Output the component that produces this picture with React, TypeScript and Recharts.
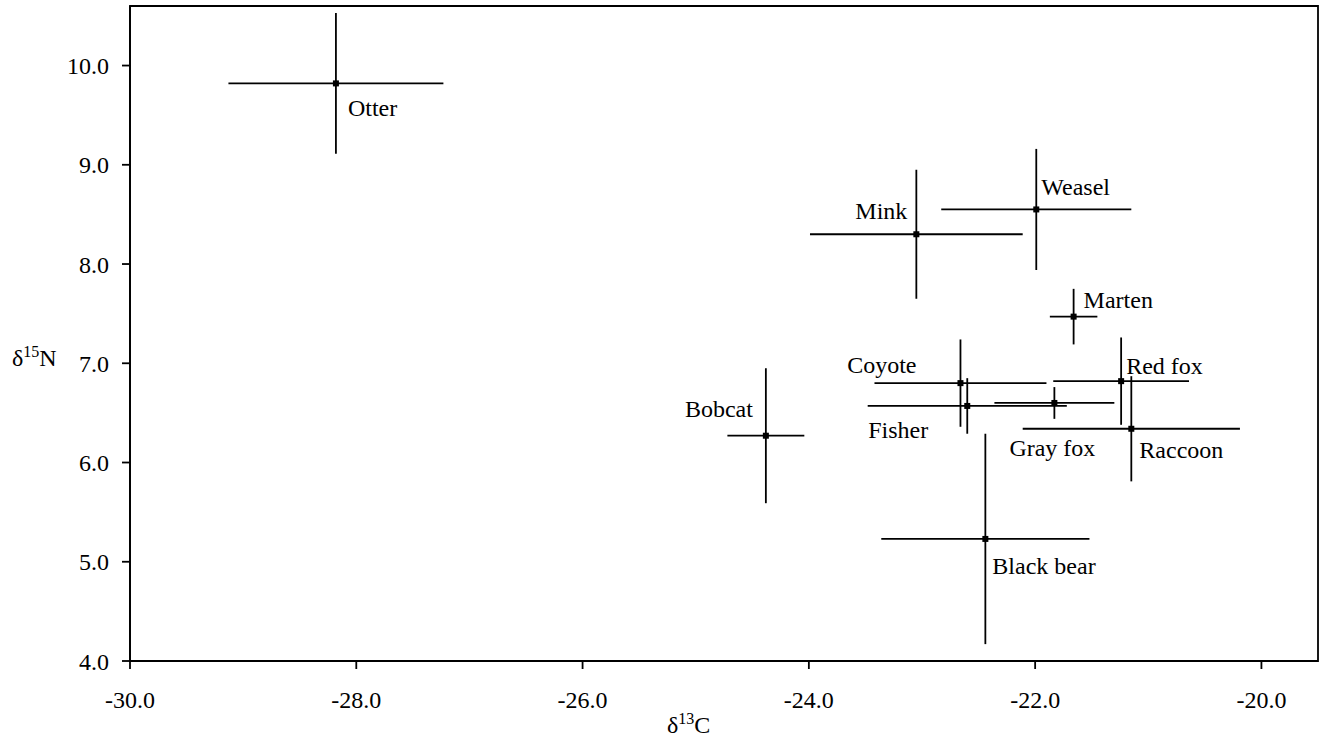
import React from "react";
import { ScatterChart, Scatter, XAxis, YAxis, ErrorBar, ReferenceArea } from "recharts";

const species = ["Otter", "Mink", "Weasel", "Marten", "Coyote", "Fisher", "Gray fox", "Red fox", "Raccoon", "Bobcat", "Black bear"];
const d13C = [-28.18, -23.05, -21.99, -21.66, -22.66, -22.6, -21.83, -21.24, -21.15, -24.38, -22.44];
const d15N = [9.82, 8.3, 8.55, 7.47, 6.8, 6.57, 6.6, 6.82, 6.34, 6.27, 5.23];
const sdC = [0.95, 0.94, 0.84, 0.21, 0.76, 0.88, 0.53, 0.6, 0.96, 0.34, 0.92];
const sdN = [0.71, 0.65, 0.61, 0.28, 0.44, 0.28, 0.16, 0.44, 0.53, 0.68, 1.06];
const xTicks = [-30, -28, -26, -24, -22, -20];
const yTicks = [4, 5, 6, 7, 8, 9, 10];

// label placement (pixel offsets from the point, baseline-based)
const LABEL_LAYOUT: Record<string, { anchor: "start" | "end" | "middle"; dx: number; dy: number }> = {
  Otter: { anchor: "start", dx: 12, dy: 33 },
  Mink: { anchor: "end", dx: -9, dy: -15 },
  Weasel: { anchor: "start", dx: 5, dy: -14 },
  Marten: { anchor: "start", dx: 10, dy: -9 },
  Coyote: { anchor: "end", dx: -44, dy: -10 },
  Fisher: { anchor: "end", dx: -39, dy: 32 },
  "Gray fox": { anchor: "start", dx: -45, dy: 53 },
  "Red fox": { anchor: "start", dx: 5, dy: -7 },
  Raccoon: { anchor: "start", dx: 8, dy: 29 },
  Bobcat: { anchor: "end", dx: -13, dy: -19 },
  "Black bear": { anchor: "start", dx: 7, dy: 35 },
};

const data = species.map((name, i) => ({ name, x: d13C[i], y: d15N[i], ex: sdC[i], ey: sdN[i] }));

const FONT = "'Liberation Serif', 'Times New Roman', serif";
const SW = 1.8;

const PointShape = (props: any) => {
  const { cx, cy, payload } = props;
  const lay = LABEL_LAYOUT[payload.name];
  return (
    <g>
      <rect x={cx - 3} y={cy - 3} width={6} height={6} fill="#000" />
      <text x={cx + lay.dx} y={cy + lay.dy} textAnchor={lay.anchor} fontFamily={FONT} fontSize={24} fill="#000">
        {payload.name}
      </text>
    </g>
  );
};

const YTitle = (props: any) => {
  const vb = props.viewBox;
  return (
    <text x={12} y={vb.y + vb.height / 2 + 32} fontFamily={FONT} fontSize={24} fill="#000">
      <tspan>δ</tspan>
      <tspan dy={-9} fontSize={16}>15</tspan>
      <tspan dy={9}>N</tspan>
    </text>
  );
};

const XTitle = (props: any) => {
  const vb = props.viewBox;
  return (
    <text x={vb.x + 537} y={733} fontFamily={FONT} fontSize={24} fill="#000">
      <tspan>δ</tspan>
      <tspan dy={-9} fontSize={16}>13</tspan>
      <tspan dy={9}>C</tspan>
    </text>
  );
};

export default function App() {
  return (
    <div style={{ position: "absolute", left: 0, top: 0, background: "#fff" }}>
      <ScatterChart width={1320} height={742} margin={{ top: 6, right: 2, bottom: 0, left: 0 }}>
        <XAxis
          type="number"
          dataKey="x"
          domain={[-30, -19.5]}
          allowDataOverflow
          ticks={xTicks}
          tickFormatter={(v: number) => v.toFixed(1)}
          height={81}
          tickSize={8}
          tickMargin={22}
          stroke="#000"
          strokeWidth={SW}
          tick={{ fill: "#000", fontFamily: FONT, fontSize: 24 }}
          label={<XTitle />}
        />
        <YAxis
          type="number"
          dataKey="y"
          domain={[4, 10.6]}
          allowDataOverflow
          ticks={yTicks}
          tickFormatter={(v: number) => v.toFixed(1)}
          width={130}
          tickSize={8}
          tickMargin={13}
          stroke="#000"
          strokeWidth={SW}
          tick={{ fill: "#000", fontFamily: FONT, fontSize: 24 }}
          label={<YTitle />}
        />
        <ReferenceArea x1={-30} x2={-19.5} y1={4} y2={10.6} fill="none" stroke="#000" strokeWidth={SW} ifOverflow="visible" />
        <Scatter data={data} isAnimationActive={false} shape={PointShape}>
          <ErrorBar dataKey="ex" direction="x" width={0} stroke="#000" strokeWidth={SW} isAnimationActive={false} />
          <ErrorBar dataKey="ey" direction="y" width={0} stroke="#000" strokeWidth={SW} isAnimationActive={false} />
        </Scatter>
      </ScatterChart>
    </div>
  );
}
